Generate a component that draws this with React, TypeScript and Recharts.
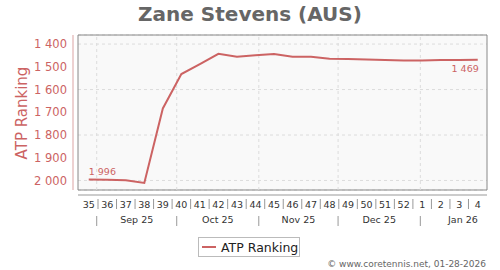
import {
  LineChart,
  Line,
  XAxis,
  YAxis,
  CartesianGrid,
  ReferenceLine,
  ReferenceArea,
  LabelList,
  Legend,
} from "recharts";

const RED = "#cc6363";
const FONT = "DejaVu Sans";

const weeks = ["35", "36", "37", "38", "39", "40", "41", "42", "43", "44", "45", "46", "47", "48", "49", "50", "51", "52", "1", "2", "3", "4"];
const rankings = [1996, 1997, 1999, 2011, 1683, 1532, 1488, 1443, 1456, 1449, 1444, 1456, 1456, 1464, 1466, 1468, 1470, 1472, 1472, 1470, 1470, 1469];

const monthLabels = ["Sep 25", "Oct 25", "Nov 25", "Dec 25", "Jan 26"];
// week index where each month begins / where its label sits
const monthStarts = [0.43, 4.75, 9.18, 13.46, 17.9];
const monthCenters = [2.59, 6.97, 11.32, 15.68, 20.2];

const yTicks = [1400, 1500, 1600, 1700, 1800, 1900, 2000];

const data = weeks.map((w, i) => ({ i, week: w, rank: rankings[i] }));
const halfTicks = weeks.slice(1).map((_, i) => i + 0.5);
const xTicks = [...weeks.map((_, i) => i), ...halfTicks, ...monthStarts, ...monthCenters];

const fmt = (v: number) => String(v).replace(/\B(?=(\d{3})+(?!\d))/g, " ");

function XTick(props: any) {
  const { x, y, payload } = props;
  const v = payload.value as number;
  if (Number.isInteger(v)) {
    return (
      <text x={x} y={y + 17.5} textAnchor="middle" fontSize={9.5} fontFamily={FONT} fill="#333">
        {weeks[v]}
      </text>
    );
  }
  const m = monthStarts.indexOf(v);
  if (m >= 0) return <line x1={x} x2={x} y1={y + 26} y2={y + 36} stroke="#999" />;
  const c = monthCenters.indexOf(v);
  if (c >= 0) {
    return (
      <text x={x} y={y + 33} textAnchor="middle" fontSize={9.5} fontFamily={FONT} fill="#333">
        {monthLabels[c]}
      </text>
    );
  }
  return <line x1={x} x2={x} y1={y + 9} y2={y + 19} stroke="#999" />;
}

function PointLabel(props: any) {
  const { x, y, value, index } = props;
  if (index === 0) {
    return (
      <text x={x} y={y - 5} fontSize={9.5} fontFamily={FONT} fill={RED}>
        {fmt(value)}
      </text>
    );
  }
  if (index === rankings.length - 1) {
    return (
      <text x={x + 1} y={y + 12.5} textAnchor="end" fontSize={9.5} fontFamily={FONT} fill={RED}>
        {fmt(value)}
      </text>
    );
  }
  return null;
}

function LegendBox() {
  return (
    <div
      style={{
        boxSizing: "border-box",
        width: 102,
        height: 20,
        border: "1px solid #bbb",
        background: "#fff",
        display: "flex",
        alignItems: "center",
        fontFamily: FONT,
        fontSize: 12.5,
        color: "#222",
        whiteSpace: "nowrap",
      }}
    >
      <span style={{ display: "inline-block", width: 14, height: 2, background: RED, margin: "0 5px 0 3px" }} />
      ATP Ranking
    </div>
  );
}

export default function App() {
  return (
    <div style={{ position: "absolute", left: 0, top: 0, width: 500, height: 270, background: "#fff" }}>
      <LineChart width={500} height={270} data={data} margin={{ top: 35, right: 13, left: 0, bottom: 0 }}>
        <CartesianGrid stroke="#dcdcdc" strokeDasharray="3 3" vertical={false} fill="#f9f9f9" />
        {monthStarts.map((m) => (
          <ReferenceLine key={m} x={m} stroke="#dcdcdc" strokeDasharray="3 3" />
        ))}
        <ReferenceArea x1={-0.58} x2={21.5} y1={1360} y2={2042} fill="none" stroke="#888" strokeOpacity={1} />
        <XAxis
          dataKey="i"
          type="number"
          domain={[-0.58, 21.5]}
          ticks={xTicks}
          interval={0}
          height={80}
          tickSize={0}
          tickMargin={0}
          tickLine={false}
          axisLine={{ stroke: "#999", transform: "translate(0,5)" }}
          tick={<XTick />}
        />
        <YAxis
          type="number"
          domain={[1360, 2042]}
          reversed
          allowDataOverflow
          ticks={yTicks}
          width={78}
          tickLine={false}
          tickMargin={5}
          tickFormatter={fmt}
          axisLine={{ stroke: "#dba3a3", transform: "translate(-5,0)" }}
          tick={{ fontSize: 11.5, fill: RED, fontFamily: FONT }}
        />
        <Legend
          verticalAlign="middle"
          align="center"
          layout="horizontal"
          wrapperStyle={{ position: "absolute", left: 198, top: 237, width: 102, height: 20 }}
          content={<LegendBox />}
        />
        <Line
          type="linear"
          dataKey="rank"
          name="ATP Ranking"
          stroke={RED}
          strokeWidth={2}
          dot={false}
          isAnimationActive={false}
        >
          <LabelList dataKey="rank" content={<PointLabel />} />
        </Line>
      </LineChart>
      <svg width={500} height={270} style={{ position: "absolute", left: 0, top: 0, pointerEvents: "none" }}>
        <text x={250} y={20.5} textAnchor="middle" fontSize={20} fontWeight="bold" fontFamily={FONT} fill="#666">
          Zane Stevens (AUS)
        </text>
        <text
          x={26.5}
          y={113}
          transform="rotate(-90 26.5 113)"
          textAnchor="middle"
          fontSize={15}
          fontFamily={FONT}
          fill={RED}
        >
          ATP Ranking
        </text>
        <text x={486} y={267} textAnchor="end" fontSize={9} fontFamily={FONT} fill="#666">
          © www.coretennis.net, 01-28-2026
        </text>
      </svg>
    </div>
  );
}
